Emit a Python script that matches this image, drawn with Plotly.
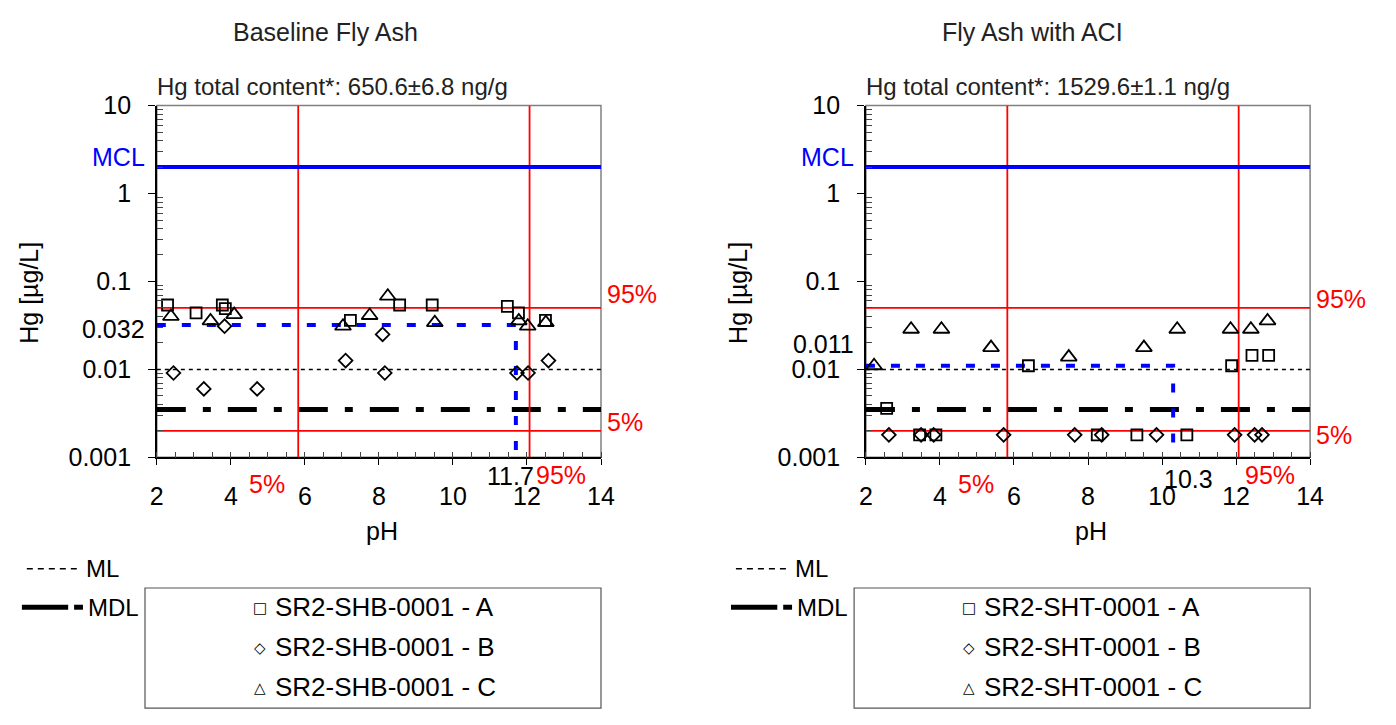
import math
import plotly.graph_objects as go

# page is drawn with an 8px body margin; layout positions below are in page pixels
OFF = 8
W, H = 1396 - OFF, 725 - OFF
FONT = "Liberation Sans, Arial, sans-serif"

# ---------------- data ----------------
ph_ticks = [2, 4, 6, 8, 10, 12, 14]
hg_tick_vals = [0.001, 0.01, 0.1, 1, 10]
hg_tick_text = ["0.001", "0.01", "0.1", "1", "10"]

MCL = 2.0
ML = 0.01
MDL = 0.0035

series_suffix = [" - A", " - B", " - C"]

# Baseline fly ash
left_title = "Baseline Fly Ash"
left_sub = "Hg total content*: 650.6±6.8 ng/g"
left_sample = "SR2-SHB-0001"
left_A_ph = [2.29, 3.06, 3.77, 3.85, 7.23, 8.56, 9.44, 11.47, 11.77, 12.50]
left_A_hg = [0.054, 0.044, 0.054, 0.049, 0.036, 0.054, 0.054, 0.052, 0.044, 0.036]
left_B_ph = [2.45, 3.27, 3.83, 4.71, 7.10, 8.10, 8.16, 11.73, 12.03, 12.58]
left_B_hg = [0.0091, 0.0060, 0.031, 0.0060, 0.0126, 0.025, 0.0091, 0.0091, 0.0091, 0.0126]
left_C_ph = [2.38, 3.45, 4.09, 7.03, 7.75, 8.24, 9.51, 11.78, 12.02, 12.51]
left_C_hg = [0.040, 0.0356, 0.042, 0.031, 0.041, 0.068, 0.034, 0.0356, 0.031, 0.034]
left_hg95, left_hg5 = 0.05, 0.002
left_ph5, left_ph95 = 5.82, 12.07
left_med_hg, left_med_ph = 0.032, 11.7
left_med_hg_label, left_med_ph_label = "0.032", "11.7"

# Fly ash with ACI
right_title = "Fly Ash with ACI"
right_sub = "Hg total content*: 1529.6±1.1 ng/g"
right_sample = "SR2-SHT-0001"
right_A_ph = [2.56, 3.45, 3.89, 6.39, 8.25, 9.32, 10.67, 11.88, 12.43, 12.88]
right_A_hg = [0.0036, 0.0018, 0.0018, 0.011, 0.0018, 0.0018, 0.0018, 0.011, 0.0144, 0.0144]
right_B_ph = [2.62, 3.49, 3.83, 5.72, 7.64, 8.37, 9.85, 11.96, 12.50, 12.70]
right_B_hg = [0.0018, 0.0018, 0.0018, 0.0018, 0.0018, 0.0018, 0.0018, 0.0018, 0.0018, 0.0018]
right_C_ph = [2.22, 3.22, 4.04, 5.38, 7.48, 9.51, 10.41, 11.85, 12.40, 12.85]
right_C_hg = [0.011, 0.0286, 0.0286, 0.0177, 0.0138, 0.0177, 0.0286, 0.0286, 0.0286, 0.0356]
right_hg95, right_hg5 = 0.05, 0.002
right_ph5, right_ph95 = 5.82, 12.07
right_med_hg, right_med_ph = 0.011, 10.3
right_med_hg_label, right_med_ph_label = "0.011", "10.3"

# ---------------- figure ----------------
fig = go.Figure()
annotations = []
shapes = []


def px(x):
    return (x - OFF) / W


def py(y):
    return 1 - (y - OFF) / H


def panel(k, ox, title, sub, sample, A, B, C, hg95, hg5, ph5, ph95,
          med_hg, med_ph, med_hg_label, med_ph_label, lab):
    xa = "x" if k == 1 else "x2"
    ya = "y" if k == 1 else "y2"
    xmin, xmax = ph_ticks[0], ph_ticks[-1]
    ymin, ymax = hg_tick_vals[0], hg_tick_vals[-1]

    def line(x, y, color, width, dash="solid"):
        fig.add_trace(go.Scatter(x=x, y=y, mode="lines", xaxis=xa, yaxis=ya,
                                 line=dict(color=color, width=width, dash=dash),
                                 showlegend=False, hoverinfo="skip"))

    line([xmin, xmax], [ML, ML], "black", 1.5, "4px,4px")
    line([xmin, xmax], [MDL, MDL], "black", 5, "29px,17px,8px,17px")
    line([xmin, xmax], [hg95, hg95], "#FF0000", 1.8)
    line([xmin, xmax], [hg5, hg5], "#FF0000", 1.8)
    line([ph5, ph5], [ymin, ymax], "#FF0000", 1.8)
    line([ph95, ph95], [ymin, ymax], "#FF0000", 1.8)
    line([xmin, xmax], [MCL, MCL], "#0000FF", 4)
    line([xmin, med_ph, med_ph], [med_hg, med_hg, ymin], "#0000FF", 4, "9px,16px")

    syms = ["square-open", "diamond-open", "triangle-up-open"]
    sizes = [11, 10.5, 14]
    for (xs, ys), s, sz, suf in zip([A, B, C], syms, sizes, series_suffix):
        fig.add_trace(go.Scatter(x=xs, y=ys, mode="markers", xaxis=xa, yaxis=ya,
                                 name=sample + suf, showlegend=False,
                                 marker=dict(symbol=s, size=sz, color="black",
                                             line=dict(color="black", width=1.8))))

    # frame
    shapes.append(dict(type="rect", xref=xa + " domain", yref=ya + " domain",
                       x0=0, x1=1, y0=0, y1=1, line=dict(color="#808080", width=1.5),
                       layer="below"))

    f = dict(family=FONT, size=25, color="black")
    red = dict(family=FONT, size=25, color="#FF0000")
    blue = dict(family=FONT, size=25, color="#0000FF")
    # titles
    annotations.append(dict(text=title, xref="paper", yref="paper", x=px(227 + ox), y=py(18),
                            xanchor="left", yanchor="middle", showarrow=False,
                            font=dict(family=FONT, size=25, color="#222")))
    annotations.append(dict(text=sub, xref="paper", yref="paper", x=px(150 + ox), y=py(75),
                            xanchor="left", yanchor="middle", showarrow=False,
                            font=dict(family=FONT, size=24, color="#222")))
    # axis titles
    annotations.append(dict(text="Hg [µg/L]", xref="paper", yref="paper", x=px(22 + ox), y=py(290),
                            xanchor="center", yanchor="middle", textangle=-90, showarrow=False, font=f))
    annotations.append(dict(text="pH", xref=xa + " domain", yref="paper", x=0.5, y=py(538),
                            xanchor="center", yanchor="middle", xshift=3, showarrow=False, font=f))
    # MCL and median labels on y side
    annotations.append(dict(text="MCL", xref=xa + " domain", yref=ya, x=0, y=math.log10(MCL),
                            xanchor="right", yanchor="middle", xshift=-10, yshift=10,
                            showarrow=False, font=blue))
    annotations.append(dict(text=med_hg_label, xref=xa + " domain", yref=ya, x=0,
                            y=math.log10(med_hg), xanchor="right", yanchor="middle",
                            xshift=-10, yshift=lab["medy"], showarrow=False, font=f))
    # percentile labels on the right
    annotations.append(dict(text="95%", xref=xa + " domain", yref=ya, x=1, y=math.log10(hg95),
                            xanchor="left", yanchor="middle", xshift=4, yshift=lab["y95"],
                            showarrow=False, font=red))
    annotations.append(dict(text="5%", xref=xa + " domain", yref=ya, x=1, y=math.log10(hg5),
                            xanchor="left", yanchor="middle", xshift=4, yshift=lab["y5"],
                            showarrow=False, font=red))
    # labels under x axis
    annotations.append(dict(text="5%", xref=xa, yref="paper", x=ph5, y=py(489),
                            xanchor="right", yanchor="middle", xshift=-11, showarrow=False, font=red))
    annotations.append(dict(text="95%", xref=xa, yref="paper", x=ph95, y=py(479),
                            xanchor="left", yanchor="middle", xshift=4, showarrow=False, font=red))
    annotations.append(dict(text=med_ph_label, xref=xa, yref="paper", x=med_ph, y=py(lab["medx_y"]),
                            xanchor="center", yanchor="middle", xshift=lab["medx_dx"],
                            showarrow=False, font=f))

    # bottom legend: ML / MDL
    shapes.append(dict(type="line", xref="paper", yref="paper", x0=px(20 + ox), x1=px(74 + ox),
                       y0=py(577), y1=py(577), line=dict(color="black", width=1.5, dash="6px,5px")))
    annotations.append(dict(text="ML", xref="paper", yref="paper", x=px(78 + ox), y=py(577),
                            xanchor="left", yanchor="middle", showarrow=False,
                            font=dict(family=FONT, size=24, color="black")))
    shapes.append(dict(type="line", xref="paper", yref="paper", x0=px(15 + ox), x1=px(62 + ox),
                       y0=py(617), y1=py(617), line=dict(color="black", width=5)))
    shapes.append(dict(type="line", xref="paper", yref="paper", x0=px(68 + ox), x1=px(77 + ox),
                       y0=py(617), y1=py(617), line=dict(color="black", width=5)))
    annotations.append(dict(text="MDL", xref="paper", yref="paper", x=px(80 + ox), y=py(617),
                            xanchor="left", yanchor="middle", showarrow=False,
                            font=dict(family=FONT, size=24, color="black")))
    # series legend box
    shapes.append(dict(type="rect", xref="paper", yref="paper", x0=px(140 + ox), x1=px(603 + ox),
                       y0=py(597), y1=py(722), line=dict(color="#555", width=1.2)))
    for row, (sym, suf) in enumerate(zip(["□", "◇", "△"], series_suffix)):
        yy = 617 + row * 41.5
        annotations.append(dict(text=sym, xref="paper", yref="paper", x=px(257 + ox), y=py(yy + 1),
                                xanchor="center", yanchor="middle", showarrow=False,
                                font=dict(family="DejaVu Sans", size=15, color="black")))
        annotations.append(dict(text=sample + suf, xref="paper", yref="paper", x=px(270 + ox),
                                y=py(yy), xanchor="left", yanchor="middle", showarrow=False,
                                font=dict(family=FONT, size=26, color="black")))


panel(1, 0, left_title, left_sub, left_sample,
      (left_A_ph, left_A_hg), (left_B_ph, left_B_hg), (left_C_ph, left_C_hg),
      left_hg95, left_hg5, left_ph5, left_ph95, left_med_hg, left_med_ph,
      left_med_hg_label, left_med_ph_label,
      dict(medy=-4, y95=14, y5=9, medx_y=480, medx_dx=-5))
panel(2, 720, right_title, right_sub, right_sample,
      (right_A_ph, right_A_hg), (right_B_ph, right_B_hg), (right_C_ph, right_C_hg),
      right_hg95, right_hg5, right_ph5, right_ph95, right_med_hg, right_med_ph,
      right_med_hg_label, right_med_ph_label,
      dict(medy=22, y95=9, y5=-4, medx_y=484, medx_dx=15))

minor_y = [m * 10 ** e for e in range(-3, 1) for m in range(2, 10)]

xcommon = dict(range=[ph_ticks[0], ph_ticks[-1]], tickmode="array", tickvals=ph_ticks,
               ticktext=[str(t) for t in ph_ticks], showline=True, linecolor="black",
               linewidth=1.5, ticks="outside", ticklen=6, tickcolor="black", tickwidth=1.2,
               showgrid=False, zeroline=False, tickfont=dict(family=FONT, size=25, color="black"),
               ticklabelstandoff=10,
               minor=dict(tickmode="linear", tick0=0, dtick=0.5, ticks="inside", ticklen=6,
                          tickcolor="#444", tickwidth=1, showgrid=False))
ycommon = dict(type="log", range=[-3, 1], tickmode="array", tickvals=hg_tick_vals,
               ticktext=hg_tick_text, showline=True, linecolor="black", linewidth=1.5,
               ticks="outside", ticklen=7, tickcolor="black", tickwidth=1.2, showgrid=False,
               zeroline=False, tickfont=dict(family=FONT, size=25, color="black"),
               ticklabelstandoff=12,
               minor=dict(tickmode="array", tickvals=minor_y, ticks="inside", ticklen=6,
                          tickcolor="#444", tickwidth=1, showgrid=False))

ydom = [py(461), py(95)]
fig.update_layout(
    width=W, height=H, margin=dict(l=0, r=0, t=0, b=0),
    paper_bgcolor="white", plot_bgcolor="white", showlegend=False,
    xaxis=dict(domain=[px(152), px(603)], anchor="y", **xcommon),
    yaxis=dict(domain=ydom, anchor="x", **ycommon),
    xaxis2=dict(domain=[px(872), px(1323)], anchor="y2", **xcommon),
    yaxis2=dict(domain=ydom, anchor="x2", **ycommon),
    annotations=annotations, shapes=shapes,
    font=dict(family=FONT, color="black"),
)

fig.write_html("out.html")
